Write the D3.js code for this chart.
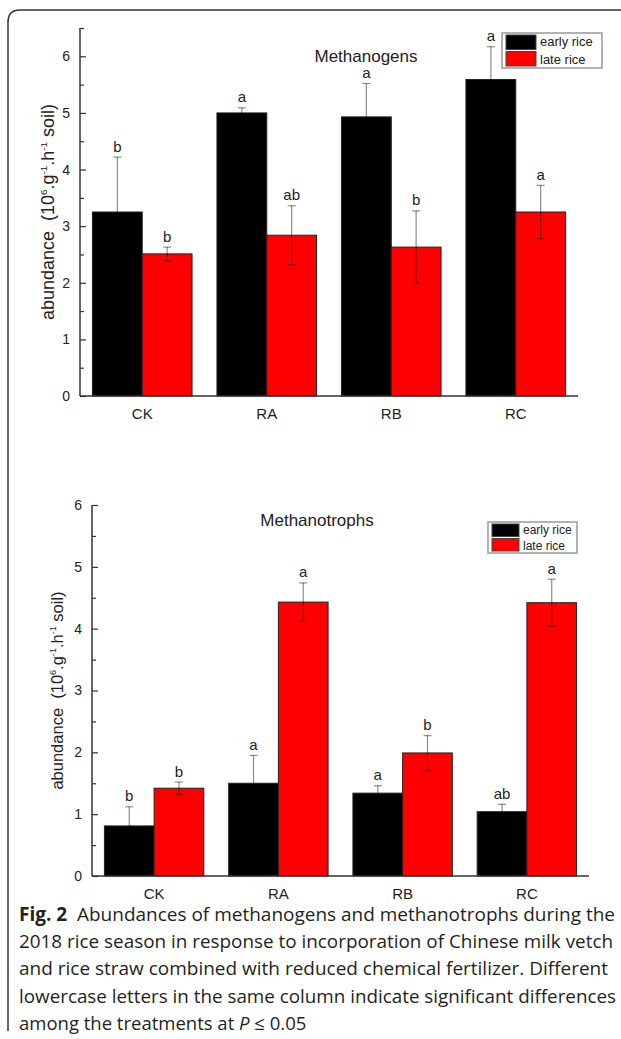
<!DOCTYPE html>
<html>
<head>
<meta charset="utf-8">
<script src="https://cdn.jsdelivr.net/npm/d3@7"></script>
<style>
  body { margin: 0; background: #fff; }
  svg { display: block; }
  .ax text { font-family: "Liberation Sans", Arial, sans-serif; }
</style>
</head>
<body>
<svg id="fig" width="621" height="1039"></svg>
<script>
const treatments = ["CK", "RA", "RB", "RC"];
const seriesNames = ["early rice", "late rice"];
const seriesColors = ["#000000", "#ff0000"];

// methanogens (10^6 g-1 h-1 soil)
const genEarly = [3.25, 5.00, 4.93, 5.59];
const genEarlySd = [0.97, 0.09, 0.59, 0.58];
const genLate = [2.51, 2.84, 2.63, 3.25];
const genLateSd = [0.12, 0.52, 0.64, 0.47];
const genEarlyLetters = ["b", "a", "a", "a"];
const genLateLetters = ["b", "ab", "b", "a"];
const genTicks = [0, 1, 2, 3, 4, 5, 6];

// methanotrophs
const trophEarly = [0.81, 1.50, 1.34, 1.04];
const trophEarlySd = [0.31, 0.45, 0.12, 0.12];
const trophLate = [1.42, 4.43, 1.99, 4.42];
const trophLateSd = [0.10, 0.31, 0.28, 0.38];
const trophEarlyLetters = ["b", "a", "a", "ab"];
const trophLateLetters = ["b", "a", "b", "a"];
const trophTicks = [0, 1, 2, 3, 4, 5, 6];

const captionLines = [
  ["Fig. 2", "  Abundances of methanogens and methanotrophs during the"],
  ["", "2018 rice season in response to incorporation of Chinese milk vetch"],
  ["", "and rice straw combined with reduced chemical fertilizer. Different"],
  ["", "lowercase letters in the same column indicate significant differences"],
  ["", "among the treatments at "]
];

const svg = d3.select("#fig");
const font = "'Liberation Sans', Arial, sans-serif";

// frame
svg.append("path")
   .attr("d", "M8,1031 L8,22 Q8,10 20,10 L621,10")
   .attr("fill", "none")
   .attr("stroke", "#333")
   .attr("stroke-width", 1.5);

function drawChart(cfg) {
  const g = svg.append("g");
  const x = d3.scaleBand()
              .domain(treatments)
              .range([cfg.left, cfg.right])
              .paddingInner(0.2)
              .paddingOuter(0.1);
  const xs = d3.scaleBand()
               .domain(seriesNames)
               .range([0, x.bandwidth()]);
  const y = d3.scaleLinear()
              .domain([0, cfg.yMax])
              .range([cfg.bottom, cfg.top]);

  const series = [
    { name: seriesNames[0], vals: cfg.early, sd: cfg.earlySd, letters: cfg.earlyLetters, color: seriesColors[0] },
    { name: seriesNames[1], vals: cfg.late, sd: cfg.lateSd, letters: cfg.lateLetters, color: seriesColors[1] }
  ];

  series.forEach((s) => {
    const rows = treatments.map((t, i) => ({ t: t, v: s.vals[i], sd: s.sd[i], l: s.letters[i] }));
    const cx = (d) => x(d.t) + xs(s.name) + xs.bandwidth() / 2;

    g.selectAll(null)
     .data(rows)
     .enter()
     .append("rect")
     .attr("x", (d) => x(d.t) + xs(s.name))
     .attr("y", (d) => y(d.v))
     .attr("width", xs.bandwidth())
     .attr("height", (d) => y(0) - y(d.v))
     .attr("fill", s.color)
     .attr("stroke", "#222")
     .attr("stroke-width", 1);

    const eb = g.selectAll(null)
                .data(rows)
                .enter()
                .append("g")
                .attr("stroke", "#000")
                .attr("stroke-opacity", 0.45)
                .attr("stroke-width", 1.2);
    eb.append("line")
      .attr("x1", cx).attr("x2", cx)
      .attr("y1", (d) => y(d.v - d.sd))
      .attr("y2", (d) => y(d.v + d.sd));
    eb.append("line")
      .attr("x1", (d) => cx(d) - 4).attr("x2", (d) => cx(d) + 4)
      .attr("y1", (d) => y(d.v + d.sd)).attr("y2", (d) => y(d.v + d.sd));
    eb.append("line")
      .attr("x1", (d) => cx(d) - 4).attr("x2", (d) => cx(d) + 4)
      .attr("y1", (d) => y(d.v - d.sd)).attr("y2", (d) => y(d.v - d.sd));

    g.selectAll(null)
     .data(rows)
     .enter()
     .append("text")
     .attr("x", cx)
     .attr("y", (d) => y(d.v + d.sd) - 5.5)
     .attr("text-anchor", "middle")
     .attr("font-family", font)
     .attr("font-size", 15)
     .attr("fill", "#222")
     .text((d) => d.l);
  });

  // y axis, ticks pointing inward
  const minor = d3.range(0, cfg.yMax + 0.001, 0.5).filter((v) => v % 1 !== 0);
  g.append("g")
   .attr("transform", `translate(${cfg.left},0)`)
   .call(d3.axisRight(y).tickValues(minor).tickSize(4).tickFormat(""))
   .call((a) => a.select(".domain").remove())
   .selectAll("line").attr("stroke", "#333").attr("stroke-width", 1.2);
  const ya = g.append("g")
              .attr("class", "ax")
              .attr("transform", `translate(${cfg.left},0)`)
              .call(d3.axisRight(y).tickValues(cfg.ticks).tickSize(6).tickSizeOuter(0).tickFormat(d3.format("d")));
  ya.select(".domain").attr("stroke", "#333").attr("stroke-width", 1.5)
    .attr("d", `M0,${y(cfg.yMax)}V${y(0)}`);
  ya.selectAll(".tick line").attr("stroke", "#333").attr("stroke-width", 1.2);
  ya.selectAll(".tick text")
    .attr("x", -10)
    .attr("text-anchor", "end")
    .attr("font-size", 14)
    .attr("fill", "#222");

  // x axis
  const xa = g.append("g")
              .attr("class", "ax")
              .attr("transform", `translate(0,${cfg.bottom})`)
              .call(d3.axisBottom(x).tickSize(0));
  xa.select(".domain").attr("stroke", "#333").attr("stroke-width", 1.5)
    .attr("d", `M${cfg.left},0H${cfg.right}`);
  xa.selectAll(".tick text")
    .attr("y", 23)
    .attr("dy", 0)
    .attr("font-size", 15)
    .attr("fill", "#222");

  // y label
  const ls = cfg.labelSize;
  const lab = g.append("text")
               .attr("transform", `translate(${cfg.labelX},${(y(0) + y(cfg.yMax)) / 2}) rotate(-90)`)
               .attr("text-anchor", "middle")
               .attr("font-family", font)
               .attr("font-size", ls)
               .attr("fill", "#222")
               .attr("xml:space", "preserve");
  lab.append("tspan").text("abundance  (10");
  lab.append("tspan").attr("font-size", ls * 0.55).attr("dy", -7).text("6");
  lab.append("tspan").attr("dy", 7).text(".g");
  lab.append("tspan").attr("font-size", ls * 0.55).attr("dy", -7).text("-1");
  lab.append("tspan").attr("dy", 7).text(".h");
  lab.append("tspan").attr("font-size", ls * 0.55).attr("dy", -7).text("-1");
  lab.append("tspan").attr("dy", 7).text(" soil)");

  // title
  g.append("text")
   .attr("x", cfg.titleX)
   .attr("y", cfg.titleY)
   .attr("text-anchor", "middle")
   .attr("font-family", font)
   .attr("font-size", 17)
   .attr("fill", "#222")
   .text(cfg.title);

  // legend
  const L = cfg.legend;
  const lg = g.append("g").attr("transform", `translate(${L.x},${L.y})`);
  lg.append("rect")
    .attr("width", L.w).attr("height", L.h)
    .attr("fill", "#fff").attr("stroke", "#999").attr("stroke-width", 1.5);
  seriesNames.forEach((n, i) => {
    lg.append("rect")
      .attr("x", 4).attr("y", 2 + i * L.h / 2 - i * 1)
      .attr("width", L.sw).attr("height", L.h / 2 - 3)
      .attr("fill", seriesColors[i]).attr("stroke", "#444").attr("stroke-width", 1);
    lg.append("text")
      .attr("x", L.sw + 8)
      .attr("y", (i + 0.5) * L.h / 2 + L.fs * 0.36)
      .attr("font-family", font)
      .attr("font-size", L.fs)
      .attr("fill", "#222")
      .text(n);
  });
}

drawChart({
  left: 80, right: 578, top: 28, bottom: 396, yMax: 6.5, ticks: genTicks,
  early: genEarly, earlySd: genEarlySd, late: genLate, lateSd: genLateSd,
  earlyLetters: genEarlyLetters, lateLetters: genLateLetters,
  title: "Methanogens", titleX: 366, titleY: 62, labelSize: 18, labelX: 54,
  legend: { x: 502, y: 33, w: 100, h: 35, sw: 30, fs: 13 }
});

drawChart({
  left: 92, right: 589, top: 505, bottom: 876, yMax: 6, ticks: trophTicks,
  early: trophEarly, earlySd: trophEarlySd, late: trophLate, lateSd: trophLateSd,
  earlyLetters: trophEarlyLetters, lateLetters: trophLateLetters,
  title: "Methanotrophs", titleX: 317, titleY: 526, labelSize: 16.5, labelX: 63,
  legend: { x: 488, y: 522, w: 89, h: 31, sw: 27, fs: 12 }
});

// caption
const cap = svg.append("g")
               .attr("font-family", "'Open Sans', sans-serif")
               .attr("font-size", 19)
               .attr("fill", "#231f20");
const capWidths = [596, 594, 589, 597, 0];
captionLines.forEach((ln, i) => {
  const t = cap.append("text")
               .attr("x", 19)
               .attr("y", 921 + i * 27.2)
               .attr("xml:space", "preserve");
  if (ln[0]) t.append("tspan").attr("font-weight", "bold").text(ln[0]);
  t.append("tspan").text(ln[1]);
  if (i === captionLines.length - 1) {
    t.attr("font-size", 18.5);
    t.append("tspan").attr("font-style", "italic").text("P");
    t.append("tspan").text(" ≤ 0.05");
  }
  if (capWidths[i]) t.attr("textLength", capWidths[i]).attr("lengthAdjust", "spacingAndGlyphs");
});
</script>
</body>
</html>
